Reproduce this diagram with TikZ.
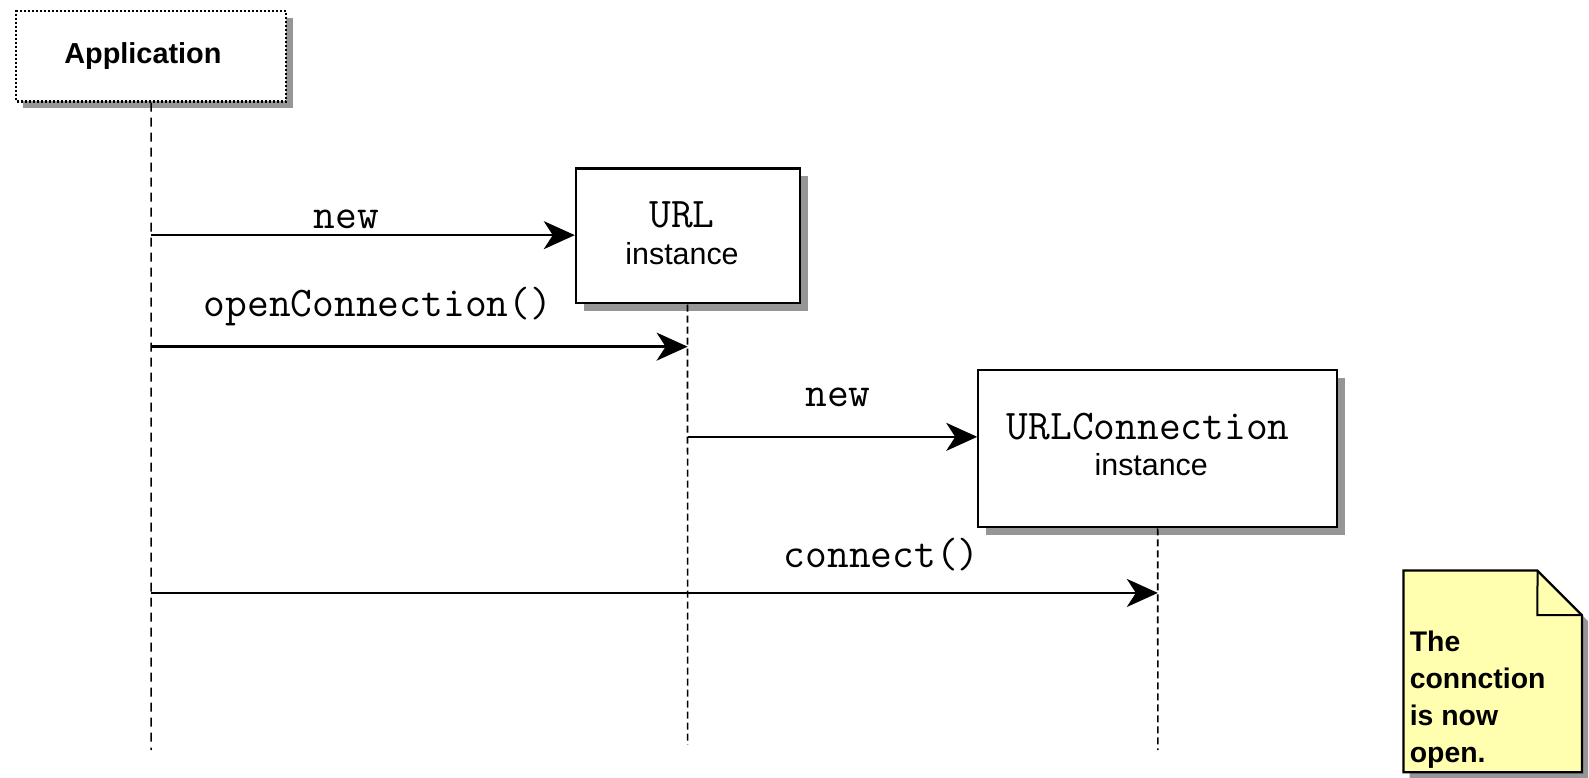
\documentclass[tikz,border=0pt]{standalone}
\usepackage{fontspec}
\setmainfont{Liberation Sans}
\usetikzlibrary{arrows.meta,calc}
\definecolor{shadowgray}{RGB}{150,150,150}
\definecolor{noteyellow}{RGB}{255,255,175}
\tikzset{
  objbox/.style={draw=black,line width=2.4pt,fill=white,inner sep=0pt},
  lifeline/.style={line width=1.6pt,dash pattern=on 7pt off 4pt},
  msg/.style={line width=2.3pt,-{Stealth[length=31pt,width=28pt,inset=9pt]}},
  msglabel/.style={font=\ttfamily\fontsize{41.7}{44}\selectfont,inner sep=0pt},
  sanslabel/.style={font=\fontsize{30}{33}\selectfont,inner sep=0pt},
  shadow/.style={fill=shadowgray,draw=none}
}
\begin{document}
\begin{tikzpicture}[x=1pt,y=-1pt,scale=1.0134,every node/.append style={transform shape}]
\useasboundingbox[fill=white] (0,0) rectangle (1568,767.7);
% Application
\fill[shadow] (23,18) rectangle (289,107);
\node[draw=black,fill=white,line width=2.2pt,dash pattern=on 2pt off 2pt,minimum width=266pt,minimum height=89pt,inner sep=0pt,anchor=north west] (app) at (15,10) {};
\node[inner sep=0pt,font=\bfseries\fontsize{28.5}{31}\selectfont] (appt) at (141,55) {Application};
% URL
\fill[shadow] (576,174) rectangle (797,307);
\node[objbox,minimum width=221pt,minimum height=133pt,anchor=north west] (url) at (567,165) {};
\node[msglabel] (urlt) at (673,212) {URL};
\node[sanslabel] (urli) at (673,250) {instance};
% URLConnection
\fill[shadow] (973,373) rectangle (1327,528);
\node[objbox,minimum width=354pt,minimum height=155pt,anchor=north west] (urlc) at (964,364) {};
\node[msglabel] (urlct) at (1133,421) {URLConnection};
\node[sanslabel] (urlci) at (1136,458) {instance};
% lifelines
\coordinate (append) at (app.south |- 0,740);
\coordinate (urlend) at ($(url.south)+(-0.5,0)$);
\coordinate (urlbot) at (urlend |- 0,735);
\coordinate (urlcend) at (urlc.south |- 0,740);
\draw[lifeline,dash pattern=on 9pt off 6pt] (app.south) -- (append);
\draw[lifeline] (urlend) -- (urlbot);
\draw[lifeline] (urlc.south) -- (urlcend);
% messages
\coordinate (m1s) at (app.south |- 0,232);
\coordinate (m1e) at (url.west |- 0,232);
\draw[msg] (m1s) -- (m1e);
\node[msglabel] (l1) at (342,216) {new};
\coordinate (m2s) at (app.south |- 0,342);
\coordinate (m2e) at (urlend |- 0,342);
\draw[msg] (m2s) -- (m2e);
\node[msglabel] (l2) at (373,302) {openConnection()};
\coordinate (m3s) at (urlend |- 0,431);
\coordinate (m3e) at (urlc.west |- 0,431);
\draw[msg] (m3s) -- (m3e);
\node[msglabel] (l3) at (827,392) {new};
\coordinate (m4s) at (app.south |- 0,585);
\coordinate (m4e) at (urlc.south |- 0,585);
\draw[msg] (m4s) -- (m4e);
\node[msglabel] (l4) at (870,547) {connect()};
% note
\fill[shadow] (1391,569) -- (1523,569) -- (1567,613) -- (1567,768) -- (1391,768) -- cycle;
\draw[fill=noteyellow,line width=2.2pt,line join=miter] (1385,563) coordinate (n1) -- (1517,563) coordinate (n2) -- (1561,607) coordinate (n3) -- (1561,762) coordinate (n4) -- (1385,762) -- cycle;
\draw[line width=2pt] (n2) -- (1517,607) -- (n3);
\node[anchor=north west,align=left,inner sep=0pt,font=\bfseries\fontsize{28}{36.8}\selectfont] (note) at (1391,622) {The\\connction\\is now\\open.};
\end{tikzpicture}
\end{document}
